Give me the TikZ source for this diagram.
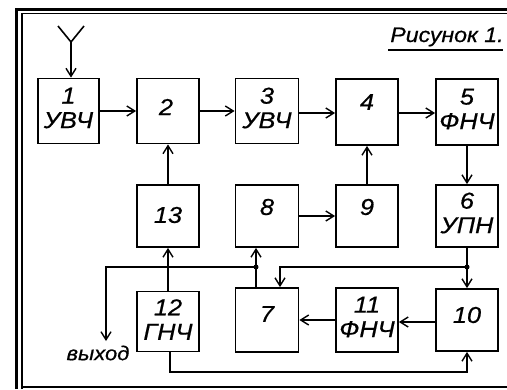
\documentclass[tikz,border=0pt]{standalone}
\usepackage{fontspec}
\setmainfont{Liberation Sans}[FakeStretch=1.1,FakeBold=0.6]
\usetikzlibrary{arrows.meta,calc}
\tikzset{
  blk/.style={draw, line width=1.8pt, inner sep=0pt},
  arr/.style={line width=1.6pt, -{Straight Barb[length=8pt,width=10pt,line width=1.4pt]}},
  ln/.style={line width=1.6pt},
  lbl/.style={font=\fontsize{23}{24.5}\selectfont\itshape, inner sep=0pt, align=center},
  ttl/.style={font=\fontsize{21}{25}\selectfont\itshape, inner sep=0pt},
  dot/.style={circle, fill, inner sep=0pt, minimum size=5pt}
}
\begin{document}
\begin{tikzpicture}[x=1pt,y=-1pt]
\useasboundingbox (0,0) rectangle (507,389);
% frame
\draw[line width=2.8pt] (16.5,389) -- (16.5,9.3) -- (507,9.3);
\draw[line width=1.3pt] (22,389) -- (22,13.5) -- (507,13.5);
\draw[line width=1.6pt] (22,387) -- (507,387);
% title
\node[ttl, anchor=base] (title) at (447,42) {Рисунок 1.};
\draw[line width=1.2pt] (388,50) -- (503,50);
% boxes row 1
\node[blk, minimum width=61pt, minimum height=65pt] (b1) at (68.5,111) {};
\node[blk, minimum width=62pt, minimum height=65pt] (b2) at (168,111) {};
\node[blk, minimum width=63pt, minimum height=65pt] (b3) at (267,111) {};
\node[blk, minimum width=62pt, minimum height=66pt] (b4) at (367,112) {};
\node[blk, minimum width=62pt, minimum height=66pt] (b5) at (467,112) {};
% row 2
\node[blk, minimum width=62pt, minimum height=62pt] (b13) at (168,216) {};
\node[blk, minimum width=63pt, minimum height=62pt] (b8) at (267,216) {};
\node[blk, minimum width=62pt, minimum height=62pt] (b9) at (367,216) {};
\node[blk, minimum width=62pt, minimum height=62pt] (b6) at (467,216) {};
% row 3
\node[blk, minimum width=62pt, minimum height=60pt] (b12) at (168,321.5) {};
\node[blk, minimum width=63pt, minimum height=64pt] (b7) at (267,320) {};
\node[blk, minimum width=62pt, minimum height=64pt] (b11) at (367,320) {};
\node[blk, minimum width=62pt, minimum height=62pt] (b10) at (467,320) {};
% texts
\node[lbl] (t1) at ($(b1.center)+(0,-3)$) {1\\УВЧ};
\node[lbl] (t2) at ($(b2.center)+(-2,-4)$) {2};
\node[lbl] (t3) at ($(b3.center)+(0,-3)$) {3\\УВЧ};
\node[lbl] (t4) at ($(b4.center)+(0,-10)$) {4};
\node[lbl] (t5) at ($(b5.center)+(0,-3)$) {5\\ФНЧ};
\node[lbl] (t13) at ($(b13.center)+(0,-1)$) {13};
\node[lbl] (t8) at ($(b8.center)+(0,-9)$) {8};
\node[lbl] (t9) at ($(b9.center)+(0,-9)$) {9};
\node[lbl] (t6) at ($(b6.center)+(0,-3)$) {6\\УПН};
\node[lbl] (t12) at ($(b12.center)+(0,-2)$) {12\\ГНЧ};
\node[lbl] (t7) at ($(b7.center)+(0,-6)$) {7};
\node[lbl] (t11) at ($(b11.center)+(0,-3)$) {11\\ФНЧ};
\node[lbl] (t10) at ($(b10.center)+(0,-5)$) {10};
\node[ttl, font=\fontsize{20}{24}\selectfont\itshape] (vyh) at (98,353) {выход};
% antenna
\coordinate (ant) at (71,42);
\draw[ln] (58,26) -- (ant) -- (84,26);
\draw[arr] (ant) -- (ant |- b1.north);
% row 1 chain
\draw[arr] (b1) -- (b2);
\draw[arr] (b2) -- (b3);
\draw[arr] (b3.east |- 0,113) -- (b4.west |- 0,113);
\draw[arr] (b4.east |- 0,113) -- (b5.west |- 0,113);
\draw[arr] (b5) -- (b6);
% verticals
\draw[arr] (b13) -- (b2);
\draw[arr] (b9) -- (b4);
\draw[arr] (b8) -- (b9);
\draw[arr] (b12) -- (b13);
% junctions
\coordinate (j1) at (256,267);
\coordinate (j2) at (467,267);
\coordinate (o1) at (106,267);
\coordinate (o2) at (106,341);
\coordinate (k7) at (280,267);
\draw[arr] (j1 |- b7.north) -- (j1 |- b8.south);
\draw[arr] (j1) -- (o1) -- (o2);
\draw[arr] (b6) -- (b10);
\draw[arr] (j2) -- (k7) -- (k7 |- b7.north);
\node[dot] (d1) at (j1) {};
\node[dot] (d2) at (j2) {};
% row 3
\draw[arr] (b10.west |- 0,322) -- (b11.east |- 0,322);
\draw[arr] (b11) -- (b7);
\coordinate (c1) at (170,372);
\coordinate (c2) at (467,372);
\draw[arr] (b12.south -| c1) -- (c1) -- (c2) -- (b10.south -| c2);
\end{tikzpicture}
\end{document}
